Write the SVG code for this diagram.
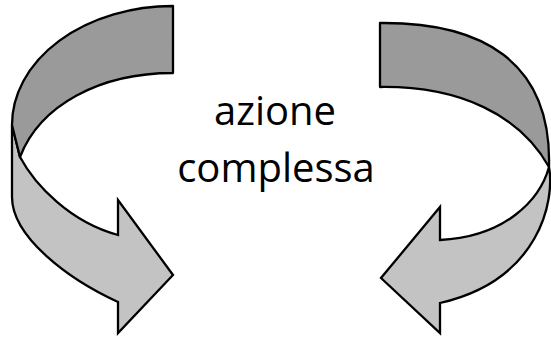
<svg xmlns="http://www.w3.org/2000/svg" width="551" height="340" viewBox="0 0 551 340">
<style>
.dark{fill:#9a9a9a;stroke:#000;stroke-width:2.3;stroke-linejoin:round}
.light{fill:#c3c3c3;stroke:#000;stroke-width:2.3;stroke-linejoin:miter}
.lbl{font-family:"Open Sans","Liberation Sans",Arial,sans-serif;font-size:40px;fill:#000;text-anchor:middle}
</style>
<rect width="551" height="340" fill="#fff"/>
<g id="left-arrow">
<path class="light" d="M12,125 L12,197 C12,237 68,279 118,302 L118,333 L173,275 L118,200 L118,235 C70,222 35,185 20,157 Z"/>
<path class="dark" d="M173,6 A161,119 0 0 0 12,125 L20,157 C40,105 100,73 173,73 Z"/>
</g>
<g id="right-arrow">
<path class="light" d="M549,167 C555,200 540,280 440,303 L440,333 L381,278 L440,207 L440,240 C505,237 540,200 549,167 Z"/>
<path class="dark" d="M380,23 C480,22 552,60 549,167 C520,115 460,86 380,87 Z"/>
</g>
<g id="label">
<text class="lbl" x="275" y="125">azione</text>
<text class="lbl" x="276" y="182">complessa</text>
</g>
</svg>
